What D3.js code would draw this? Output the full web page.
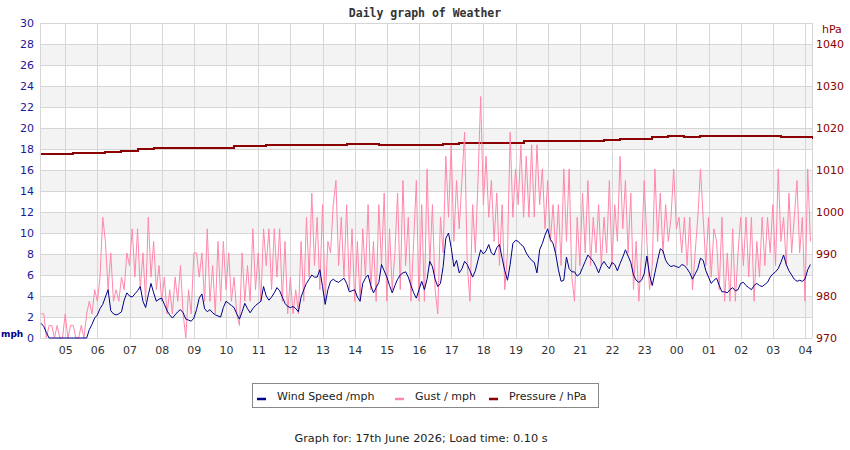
<!DOCTYPE html>
<html>
<head>
<meta charset="utf-8">
<script src="https://cdn.jsdelivr.net/npm/d3@7"></script>
<style>
  body { margin: 0; background: #fff; }
  text { font-family: "DejaVu Sans", sans-serif; }
</style>
</head>
<body>
<svg id="weather" width="850" height="450"></svg>
<script>
// first 5-minute sample is 04:15 on the 16th, last is 04:10 on the 17th
var windSpeed = [
  1.4,1.1,0.5,0,0,0,0,0,0,0,0,0,
  0,0,0,0,0,0,0.8,1.3,1.9,2.2,2.8,3.2,
  3.9,4.6,2.6,2.3,2.2,2.3,2.5,3.6,4.3,4.0,3.9,4.2,
  4.5,4.9,3.5,2.9,4.1,5.2,4.3,3.5,3.7,3.8,3.2,2.6,
  2.2,1.9,2.2,2.5,2.7,2.4,1.8,1.7,1.6,1.9,2.7,3.8,
  4.2,2.8,2.5,2.7,2.4,2.2,2.1,2.0,2.9,3.5,3.3,3.1,
  2.9,2.3,1.8,2.5,3.3,2.8,2.4,2.8,3.1,3.3,3.5,4.9,
  4.0,3.6,3.9,4.3,4.8,4.5,3.9,3.3,3.0,2.9,3.0,2.8,
  2.5,3.9,4.6,5.2,5.6,6.0,5.8,5.8,6.5,4.9,3.2,4.6,
  5.4,5.6,5.4,5.3,5.5,5.7,5.2,4.4,4.5,4.6,3.9,3.5,
  5.2,5.7,6.0,5.0,4.3,4.8,5.3,7.0,6.4,5.8,5.0,4.3,
  5.0,5.6,6.0,6.2,6.3,5.8,5.0,4.3,3.8,4.6,5.4,4.6,
  5.6,7.3,6.8,5.6,4.9,5.2,6.8,9.5,10.0,8.6,6.8,7.4,
  6.2,6.6,7.3,7.0,6.4,5.8,6.4,7.4,8.4,8.0,8.3,8.9,
  8.1,7.9,8.6,8.9,7.6,6.4,5.5,7.0,9.0,9.3,9.2,8.9,
  8.7,8.1,7.7,7.4,7.2,6.2,8.4,9.0,9.8,10.4,9.4,9.0,
  8.0,6.5,5.4,5.5,7.7,6.6,6.3,6.3,5.9,6.1,6.7,7.3,
  7.9,7.6,7.3,6.8,6.2,6.9,7.3,6.9,6.6,7.2,7.0,6.4,
  7.1,7.7,8.4,7.8,7.2,6.0,5.5,5.3,5.5,6.1,7.8,6.0,
  5.0,6.2,7.4,8.5,8.3,7.4,7.0,6.8,6.9,6.8,6.7,7.0,
  6.9,6.6,6.2,5.6,6.1,6.6,7.6,7.4,6.4,5.8,5.2,5.5,
  5.7,5.0,4.4,4.4,4.3,4.6,4.8,4.5,4.6,5.2,5.3,5.0,
  4.8,4.6,5.0,5.2,5.0,4.9,5.1,5.3,5.8,6.1,6.3,6.6,
  7.2,7.9,7.0,6.4,6.0,5.6,5.4,5.5,5.4,5.6,6.5,7.0
];

var gust = [
  2.3,2.3,0,1.2,1.2,0,1.2,0,0,2.3,0,1.2,
  1.2,0,0,1.2,0,2.3,3.5,2.3,4.6,3.5,5.8,11.5,
  9.2,4.6,8.1,3.5,4.6,3.5,5.8,4.6,8.1,6.9,10.4,5.8,
  10.4,4.6,8.1,3.5,11.5,5.8,9.2,4.6,6.9,3.5,5.8,2.3,
  4.6,2.3,5.8,3.5,6.9,2.3,0,4.6,2.3,8.1,8.1,5.8,
  8.1,3.5,10.4,3.5,6.9,2.3,9.2,3.5,9.2,4.6,8.1,3.5,
  5.8,2.3,1.2,8.1,3.5,6.9,3.5,10.4,4.6,8.1,3.5,10.4,
  6.9,10.4,4.6,10.4,5.8,10.4,3.5,9.2,2.3,5.8,2.3,4.6,
  2.3,9.2,3.5,11.5,5.8,13.8,6.9,11.5,4.6,12.7,3.5,9.2,
  8.1,12.7,15.0,6.9,11.5,5.8,12.7,4.6,10.4,3.5,9.2,3.5,
  10.4,5.8,12.7,4.6,9.2,3.5,12.7,6.9,13.8,3.5,10.4,4.6,
  8.1,13.8,4.6,15.0,6.9,11.5,3.5,9.2,15.0,3.5,12.7,3.5,
  16.1,6.9,12.7,4.6,2.3,11.5,8.1,17.3,11.5,18.4,9.2,15.0,
  10.4,15.0,19.6,6.9,3.5,12.7,8.1,15.0,23.0,12.7,17.3,11.5,
  15.0,9.2,13.8,6.9,12.7,4.6,8.1,19.6,11.5,16.1,12.7,18.4,
  11.5,17.3,11.5,18.4,11.5,18.4,12.7,16.1,10.4,15.0,9.2,12.7,
  8.1,12.7,6.9,16.1,9.2,16.1,5.8,3.5,11.5,6.9,13.8,8.1,
  15.0,6.9,11.5,8.1,12.7,6.9,11.5,8.1,15.0,6.9,12.7,9.2,
  17.3,10.4,15.0,8.1,13.8,4.6,9.2,3.5,8.1,15.0,9.2,4.6,
  6.9,16.1,9.2,13.8,8.1,12.7,9.2,11.5,16.1,10.4,11.5,8.1,
  11.5,6.9,11.5,4.6,8.1,11.5,16.1,11.5,6.9,11.5,5.8,10.4,
  9.2,4.6,11.5,3.5,8.1,3.5,10.4,3.5,8.1,11.5,6.9,11.5,
  5.8,11.5,3.5,9.2,5.8,11.5,6.9,11.5,8.1,12.7,6.9,16.1,
  9.2,11.5,6.9,13.8,8.1,11.5,15.0,8.1,11.5,3.5,16.1,9.2
];

// half-hourly pressure, 04:15 onwards
var pressure = [
  1013.8,1013.9,1014.0,1014.1,1014.3,1014.6,1014.9,1015.2,1015.2,1015.2,
  1015.2,1015.3,1015.7,1015.7,1015.9,1015.9,1015.9,1015.9,1015.9,1016.1,
  1016.1,1015.9,1015.9,1015.9,1015.9,1016.1,1016.4,1016.4,1016.4,1016.4,
  1016.8,1016.8,1016.8,1017.0,1017.0,1017.2,1017.5,1017.5,1017.8,1018.0,
  1017.9,1018.0,1018.0,1018.0,1018.0,1018.0,1017.9,1017.8,1017.5
];

var mphTicks = [0,2,4,6,8,10,12,14,16,18,20,22,24,26,28,30];
var hpaTicks = [970,980,990,1000,1010,1020,1030,1040];
var legendItems = ["Wind Speed /mph", "Gust / mph", "Pressure / hPa"];
var legendColors = ["#00008b", "#ff88aa", "#8b0000"];

(function (d3) {
  var svg = d3.select("#weather");
  var plotL = 40, plotR = 812, plotT = 23, plotB = 338;

  var start = new Date(2026, 5, 16, 4, 13);
  var end = new Date(2026, 5, 17, 4, 13);
  var firstSample = new Date(2026, 5, 16, 4, 15);

  var x = d3.scaleTime().domain([start, end]).range([plotL, plotR]);
  var y = d3.scaleLinear().domain([0, 30]).range([plotB, plotT]);
  var yP = d3.scaleLinear().domain([970, 1045]).range([plotB, plotT]);

  // alternate shaded bands
  svg.append("g").selectAll("rect")
    .data(mphTicks.filter(function (d) { return d % 4 == 2 && d < 30; }))
    .enter().append("rect")
    .attr("x", plotL).attr("width", plotR - plotL)
    .attr("y", function (d) { return y(d + 2); })
    .attr("height", function (d) { return y(d) - y(d + 2); })
    .attr("fill", "#f3f3f3");

  // grid
  var grid = svg.append("g").attr("stroke", "#d6d6d6").attr("shape-rendering", "crispEdges");
  grid.selectAll("line.h").data(mphTicks).enter().append("line").attr("class", "h")
    .attr("x1", plotL).attr("x2", plotR)
    .attr("y1", function (d) { return Math.round(y(d)) + 0.5; })
    .attr("y2", function (d) { return Math.round(y(d)) + 0.5; });
  grid.selectAll("line.v").data(x.ticks(d3.timeHour.every(1))).enter().append("line").attr("class", "v")
    .attr("y1", plotT).attr("y2", plotB)
    .attr("x1", function (d) { return Math.round(x(d)) + 0.5; })
    .attr("x2", function (d) { return Math.round(x(d)) + 0.5; });
  grid.append("line").attr("x1", plotL + 0.5).attr("x2", plotL + 0.5).attr("y1", plotT).attr("y2", plotB);
  grid.append("line").attr("x1", plotR + 0.5).attr("x2", plotR + 0.5).attr("y1", plotT).attr("y2", plotB);

  // axes
  var xAxis = svg.append("g")
    .attr("transform", "translate(0," + plotB + ")")
    .call(d3.axisBottom(x).ticks(d3.timeHour.every(1)).tickFormat(d3.timeFormat("%H")).tickSize(0).tickPadding(8));
  xAxis.select(".domain").remove();
  xAxis.selectAll("text").attr("fill", "#333").style("font-size", "11px").style("font-family", "DejaVu Sans");

  var yAxis = svg.append("g")
    .attr("transform", "translate(" + plotL + ",0)")
    .call(d3.axisLeft(y).tickValues(mphTicks).tickSize(0).tickPadding(6));
  yAxis.select(".domain").remove();
  yAxis.selectAll("text").attr("fill", "#1a1a99").style("font-size", "11px").style("font-family", "DejaVu Sans");

  var pAxis = svg.append("g")
    .attr("transform", "translate(" + plotR + ",0)")
    .call(d3.axisRight(yP).tickValues(hpaTicks).tickFormat(d3.format("d")).tickSize(0).tickPadding(4));
  pAxis.select(".domain").remove();
  pAxis.selectAll("text").attr("fill", "#8b0000").style("font-size", "11px").style("font-family", "DejaVu Sans");

  svg.append("text").attr("x", 1).attr("y", 337)
    .attr("fill", "#00008b").attr("font-weight", "bold").style("font-size", "9px").text("mph");
  svg.append("text").attr("x", 822).attr("y", 33)
    .attr("fill", "#8b0000").style("font-size", "11px").text("hPa");

  svg.append("text").attr("x", 425).attr("y", 17).attr("text-anchor", "middle")
    .attr("fill", "#333").attr("font-weight", "bold")
    .style("font-family", "DejaVu Sans Mono").style("font-size", "11.5px")
    .text("Daily graph of Weather");

  // lines
  svg.append("clipPath").attr("id", "plotclip").append("rect")
    .attr("x", plotL).attr("y", plotT).attr("width", plotR - plotL + 1).attr("height", plotB - plotT + 1);
  var plot = svg.append("g").attr("clip-path", "url(#plotclip)");

  function sampleTime(i, step) { return d3.timeMinute.offset(firstSample, i * step); }

  var pLine = d3.line()
    .x(function (d, i) { return x(sampleTime(i, 30)); })
    .y(function (d) { return yP(d); })
    .curve(d3.curveStepAfter);
  var mLine = d3.line()
    .x(function (d, i) { return x(sampleTime(i, 5)); })
    .y(function (d) { return y(d); });

  plot.append("path").datum(pressure).attr("d", pLine)
    .attr("fill", "none").attr("stroke", "#8b0000").attr("stroke-width", 2)
    .attr("shape-rendering", "crispEdges");
  plot.append("path").datum(gust).attr("d", mLine)
    .attr("fill", "none").attr("stroke", "#ff88aa").attr("stroke-width", 1);
  plot.append("path").datum(windSpeed).attr("d", mLine)
    .attr("fill", "none").attr("stroke", "#00008b").attr("stroke-width", 1);

  // legend
  var legend = svg.append("g");
  legend.append("rect").attr("x", 252.5).attr("y", 383.5).attr("width", 346).attr("height", 24)
    .attr("fill", "#fff").attr("stroke", "#888");
  var legendX = [257, 395, 489];
  legend.selectAll("line").data(legendItems).enter().append("line")
    .attr("x1", function (d, i) { return legendX[i]; })
    .attr("x2", function (d, i) { return legendX[i] + 9; })
    .attr("y1", 399).attr("y2", 399)
    .attr("stroke", function (d, i) { return legendColors[i]; })
    .attr("stroke-width", 2.5);
  legend.selectAll("text").data(legendItems).enter().append("text")
    .attr("x", function (d, i) { return legendX[i] + 20; })
    .attr("y", 400)
    .attr("fill", "#222").style("font-size", "11px")
    .text(function (d) { return d; });

  svg.append("text").attr("x", 421).attr("y", 442).attr("text-anchor", "middle")
    .attr("fill", "#222").style("font-size", "11.3px")
    .text("Graph for: 17th June 2026; Load time: 0.10 s");
})(d3);
</script>
</body>
</html>
